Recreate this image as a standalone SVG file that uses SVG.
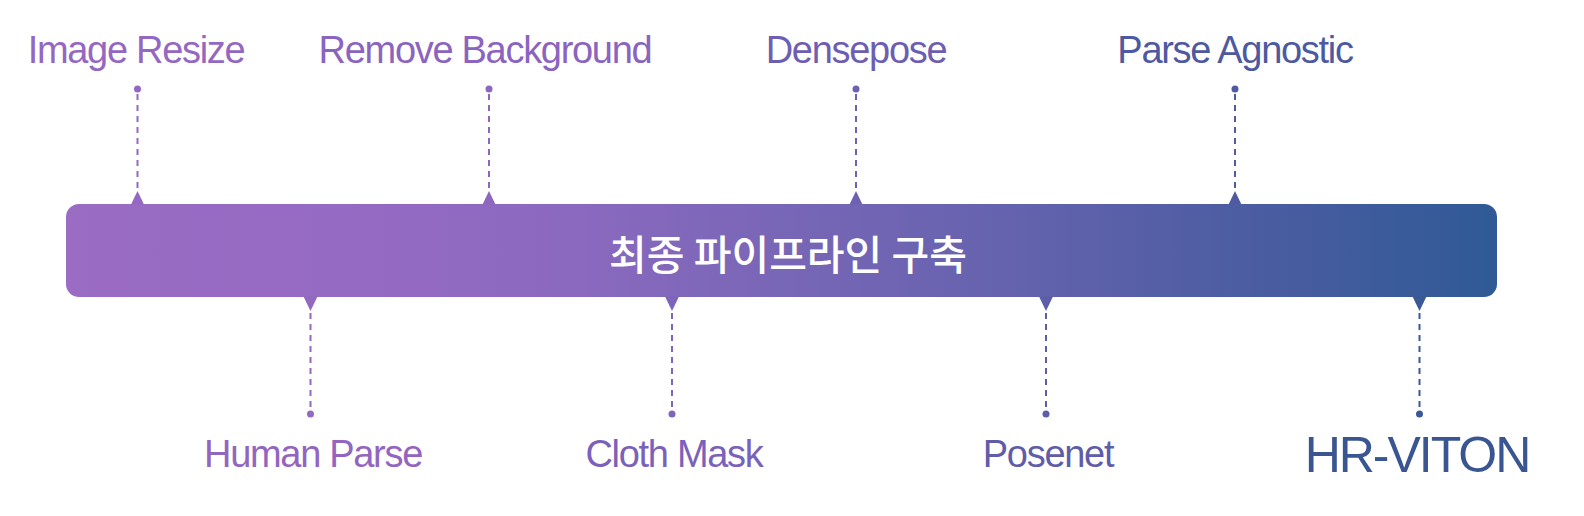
<svg xmlns="http://www.w3.org/2000/svg" width="1584" height="516" viewBox="0 0 1584 516">
  <defs>
    <linearGradient id="barGrad" x1="66" y1="0" x2="1497" y2="0" gradientUnits="userSpaceOnUse">
      <stop offset="0" stop-color="#9A6CC4"/>
      <stop offset="0.2" stop-color="#956AC2"/>
      <stop offset="0.35" stop-color="#8B69BF"/>
      <stop offset="0.65" stop-color="#6663AE"/>
      <stop offset="0.85" stop-color="#485C9F"/>
      <stop offset="1" stop-color="#2F5A95"/>
    </linearGradient>
    <style>
      .lbl { font-family: "Liberation Sans", Arial, sans-serif; font-size: 38px; letter-spacing: -1.3px; text-anchor: middle; }
      .dash { stroke-width: 2; stroke-dasharray: 6 5; fill: none; }
      .title { font-family: "Noto Sans CJK KR", "Noto Sans", sans-serif; font-size: 41px; font-weight: 500; fill: #ffffff; text-anchor: middle; }
    </style>
  </defs>

  <g id="bar">
    <rect x="66" y="204" width="1431" height="93" rx="13" ry="13" fill="url(#barGrad)"/>
    <text class="title" x="788" y="270">최종 파이프라인 구축</text>
  </g>

  <g id="connectors">
    <!-- top -->
    <g fill="#9468C2" stroke="#9468C2">
      <circle cx="137.5" cy="89" r="3.5" stroke="none"/>
      <line class="dash" x1="137.5" y1="94" x2="137.5" y2="192"/>
      <polygon points="137.5,191 131,204.5 144,204.5" stroke="none"/>
    </g>
    <g fill="#8C66BF" stroke="#8C66BF">
      <circle cx="489" cy="89" r="3.5" stroke="none"/>
      <line class="dash" x1="489" y1="94" x2="489" y2="192"/>
      <polygon points="489,191 482.5,204.5 495.5,204.5" stroke="none"/>
    </g>
    <g fill="#6E60B3" stroke="#6E60B3">
      <circle cx="856" cy="89" r="3.5" stroke="none"/>
      <line class="dash" x1="856" y1="94" x2="856" y2="192"/>
      <polygon points="856,191 849.5,204.5 862.5,204.5" stroke="none"/>
    </g>
    <g fill="#4F5AA2" stroke="#4F5AA2">
      <circle cx="1235" cy="89" r="3.5" stroke="none"/>
      <line class="dash" x1="1235" y1="94" x2="1235" y2="192"/>
      <polygon points="1235,191 1228.5,204.5 1241.5,204.5" stroke="none"/>
    </g>
    <!-- bottom -->
    <g fill="#9268C1" stroke="#9268C1">
      <polygon points="303.5,296.5 317.5,296.5 310.5,311" stroke="none"/>
      <line class="dash" x1="310.5" y1="313" x2="310.5" y2="410"/>
      <circle cx="310.5" cy="414" r="3.5" stroke="none"/>
    </g>
    <g fill="#7C65BA" stroke="#7C65BA">
      <polygon points="665,296.5 679,296.5 672,311" stroke="none"/>
      <line class="dash" x1="672" y1="313" x2="672" y2="410"/>
      <circle cx="672" cy="414" r="3.5" stroke="none"/>
    </g>
    <g fill="#5C5FA8" stroke="#5C5FA8">
      <polygon points="1039,296.5 1053,296.5 1046,311" stroke="none"/>
      <line class="dash" x1="1046" y1="313" x2="1046" y2="410"/>
      <circle cx="1046" cy="414" r="3.5" stroke="none"/>
    </g>
    <g fill="#3A5996" stroke="#3A5996">
      <polygon points="1412.5,296.5 1426.5,296.5 1419.5,311" stroke="none"/>
      <line class="dash" x1="1419.5" y1="313" x2="1419.5" y2="410"/>
      <circle cx="1419.5" cy="414" r="3.5" stroke="none"/>
    </g>
  </g>

  <g id="n-image-resize"><text class="lbl" x="136" y="63" fill="#9468C2">Image Resize</text></g>
  <g id="n-remove-background"><text class="lbl" x="485" y="63" fill="#8A64BF">Remove Background</text></g>
  <g id="n-densepose"><text class="lbl" x="856" y="63" fill="#6E5EB2">Densepose</text></g>
  <g id="n-parse-agnostic"><text class="lbl" x="1235" y="63" fill="#4D59A1">Parse Agnostic</text></g>
  <g id="n-human-parse"><text class="lbl" x="313" y="467" fill="#9265C0">Human Parse</text></g>
  <g id="n-cloth-mask"><text class="lbl" x="674" y="467" fill="#7A61B9">Cloth Mask</text></g>
  <g id="n-posenet"><text class="lbl" x="1048" y="467" fill="#5F5CAA">Posenet</text></g>
  <g id="n-hr-viton"><text x="1417" y="472" fill="#3A5692" font-family="Liberation Sans, Arial, sans-serif" font-size="50" letter-spacing="-2" text-anchor="middle">HR-VITON</text></g>
</svg>
